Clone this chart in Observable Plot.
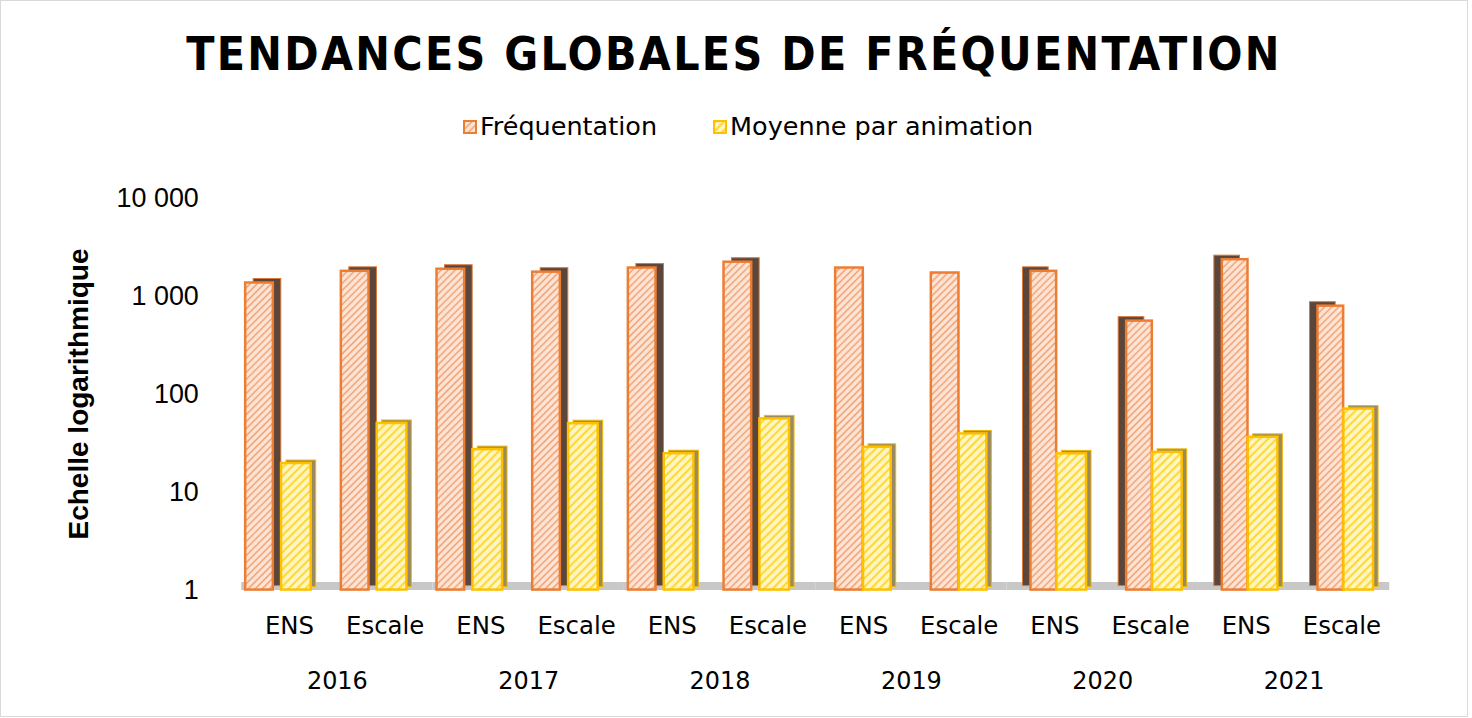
<!DOCTYPE html>
<html>
<head>
<meta charset="utf-8">
<script src="https://cdn.jsdelivr.net/npm/d3@7"></script>
<script src="https://cdn.jsdelivr.net/npm/@observablehq/plot@0.6"></script>
<style>
  html, body { margin: 0; padding: 0; background: #fff; }
  #frame { position: relative; width: 1466px; height: 715px; border: 1px solid #d9d9d9; background: #fff; overflow: hidden; }
  #title { position: absolute; left: 0; width: 100%; top: 30px; text-align: center; font-family: "DejaVu Sans Condensed", "DejaVu Sans", sans-serif; font-stretch: condensed; font-weight: bold; font-size: 46px; line-height: 1; letter-spacing: 2.3px; color: #000; white-space: nowrap; }
  #legend { position: absolute; top: 113px; left: 462px; font-family: "DejaVu Sans", sans-serif; font-size: 25.5px; line-height: 1; color: #000; white-space: nowrap; display: flex; align-items: center; }
  #legend .item { display: flex; align-items: center; margin-right: 56px; }
  #legend svg { margin-right: 3px; }
  #ylabel { position: absolute; left: 78px; top: 393px; transform: translate(-50%, -50%) rotate(-90deg); font-family: "Liberation Sans", Arial, sans-serif; font-weight: bold; font-size: 28px; white-space: nowrap; color: #000; }
  #chart { position: absolute; left: -1px; top: 169px; }
</style>
</head>
<body>
<svg width="0" height="0" style="position:absolute">
  <defs>
    <pattern id="hatchF" patternUnits="userSpaceOnUse" width="5" height="5" patternTransform="rotate(-45)">
      <rect width="5" height="5" fill="#fde6d8"></rect>
      <line x1="0" y1="2.5" x2="5" y2="2.5" stroke="#f09a68" stroke-width="1.4"></line>
    </pattern>
    <pattern id="hatchM" patternUnits="userSpaceOnUse" width="6" height="6" patternTransform="rotate(-45)">
      <rect width="6" height="6" fill="#fff6c4"></rect>
      <line x1="0" y1="3" x2="6" y2="3" stroke="#ffd83a" stroke-width="2.2"></line>
    </pattern>
  </defs>
</svg>
<div id="frame">
  <div id="title"></div>
  <div id="legend"></div>
  <div id="ylabel"></div>
  <div id="chart"></div>
</div>
<script>
// ---- data ----
const title = "TENDANCES GLOBALES DE FRÉQUENTATION";
const seriesNames = ["Fréquentation", "Moyenne par animation"];
const yLabel = "Echelle logarithmique";
const years = [2016, 2017, 2018, 2019, 2020, 2021];
const types = ["ENS", "Escale"];
const frequentation = [1368, 1800, 1890, 1765, 1945, 2230, 1945, 1730, 1800, 558, 2367, 793];
const moyenne = [19.6, 50.3, 27.2, 50, 24.7, 56, 28.7, 39.3, 24.6, 25.5, 36.3, 70.5];
const yTicks = [1, 10, 100, 1000, 10000];
const yTickLabels = ["1", "10", "100", "1 000", "10 000"];
const baseline = 1;

// ---- table ----
const rows = years.flatMap((yr, i) => types.map((t, j) => ({
  year: yr, type: t, freq: frequentation[i * 2 + j], moy: moyenne[i * 2 + j]
})));

// ---- text ----
document.getElementById("title").textContent = title;
document.getElementById("ylabel").textContent = yLabel;
const legend = document.getElementById("legend");
const swatches = [
  {fill: "url(#hatchF)", stroke: "#ed7d31"},
  {fill: "url(#hatchM)", stroke: "#ffc000"}
];
seriesNames.forEach((name, i) => {
  const item = document.createElement("span");
  item.className = "item";
  item.innerHTML = `<svg width="14" height="14"><rect x="1" y="1" width="12" height="12" fill="${swatches[i].fill}" stroke="${swatches[i].stroke}" stroke-width="2"></rect></svg><span>${name}</span>`;
  legend.appendChild(item);
});

// ---- chart ----
const bw = 96.25; // band width of each type inside a year facet
function barGroup(filterFn, g) {
  const data = rows.filter(filterFn);
  const common = {fx: "year", x: "type", y1: () => baseline};
  const marks = [];
  if (g.side) {
    marks.push(Plot.barY(data, {...common, y2: "freq", insetLeft: g.f[0], insetRight: bw - g.f[1],
      dx: g.side, dy: -4, fill: "#5b463b", stroke: "#d9773a", strokeWidth: 1}));
  }
  marks.push(Plot.barY(data, {...common, y2: "freq", insetLeft: g.f[0], insetRight: bw - g.f[1],
    fill: "url(#hatchF)", stroke: "#ed7d31", strokeWidth: 2.5}));
  marks.push(Plot.barY(data, {...common, y2: "moy", insetLeft: g.m[0], insetRight: bw - g.m[1],
    dx: 5, dy: -3, fill: "#9a8a62", stroke: "#f0b800", strokeWidth: 1}));
  marks.push(Plot.barY(data, {...common, y2: "moy", insetLeft: g.m[0], insetRight: bw - g.m[1],
    fill: "url(#hatchM)", stroke: "#ffc000", strokeWidth: 2.5}));
  return marks;
}

const chart = Plot.plot({
  width: 1472,
  height: 549,
  marginTop: 28,
  marginBottom: 128,
  marginLeft: 241,
  marginRight: 77,
  style: {fontFamily: "DejaVu Sans, sans-serif", fontSize: "24px", color: "#000", background: "transparent", overflow: "visible"},
  fx: {domain: years, padding: 0, label: null},
  x: {domain: types, padding: 0, label: null},
  y: {type: "log", domain: [1, 10000], label: null},
  marks: [
    Plot.ruleY([baseline], {stroke: "#c8c8c8", strokeWidth: 8, dy: -4}),
    ...barGroup(d => d.year <= 2018, {f: [4, 32], m: [40, 70], side: 8}),
    ...barGroup(d => d.year === 2019, {f: [20, 48], m: [48, 76], side: 0}),
    ...barGroup(d => d.year >= 2020, {f: [24, 50], m: [50, 80], side: -8}),
    Plot.axisY({ticks: yTicks, tickFormat: d => yTickLabels[yTicks.indexOf(d)], tickSize: 0, tickPadding: 43,
      fontSize: 27, fontFamily: "Liberation Sans, Arial, sans-serif", label: null}),
    Plot.axisX({tickSize: 0, tickPadding: 27, fontSize: 24.5, fontFamily: "DejaVu Sans, sans-serif", label: null}),
    Plot.axisFx({anchor: "bottom", tickSize: 0, tickPadding: 82, tickFormat: d => String(d), fontSize: 24, fontFamily: "DejaVu Sans, sans-serif", label: null})
  ]
});
document.getElementById("chart").appendChild(chart);
</script>
</body>
</html>
